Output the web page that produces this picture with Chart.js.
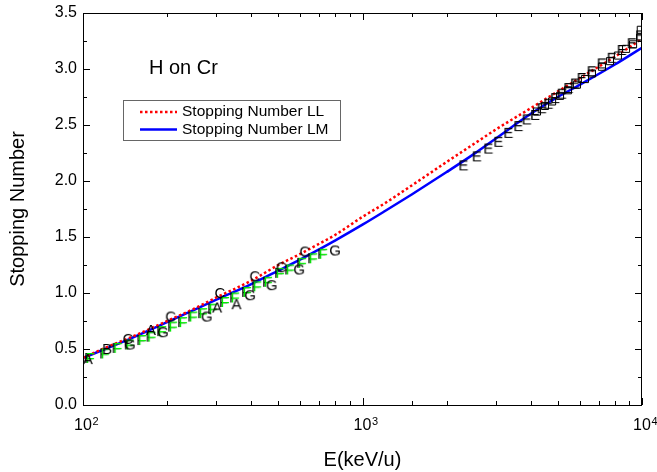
<!DOCTYPE html>
<html>
<head>
<meta charset="utf-8">
<script src="https://cdn.jsdelivr.net/npm/chart.js@4.4.1/dist/chart.umd.min.js"></script>
<style>
  html, body { margin: 0; padding: 0; background: #fff; }
</style>
</head>
<body>
<canvas id="myChart" width="657" height="472"></canvas>
<script>
// theory curves
var energy = [100, 120, 150, 200, 250, 300, 400, 500, 600, 700, 800, 1000, 1200, 1500, 2000, 2500, 3000, 4000, 5000, 6000, 8000, 10000];
var stopLL = [0.42, 0.51, 0.61, 0.75, 0.86, 0.96, 1.11, 1.25, 1.35, 1.44, 1.52, 1.68, 1.80, 1.96, 2.17, 2.33, 2.46, 2.65, 2.80, 2.92, 3.11, 3.27];
var stopLM = [0.42, 0.50, 0.60, 0.74, 0.85, 0.94, 1.08, 1.20, 1.30, 1.39, 1.47, 1.61, 1.73, 1.88, 2.08, 2.24, 2.38, 2.60, 2.75, 2.86, 3.04, 3.19];

// experimental sets (letter symbols)
var aE = [104, 175, 302, 354];
var aS = [0.41, 0.67, 0.87, 0.90];
var bE = [122];
var bS = [0.50];
var cE = [145, 206, 309, 412, 513, 622];
var cS = [0.59, 0.79, 1.00, 1.15, 1.23, 1.37];
var gE = [147, 193, 277, 396, 473, 593, 797];
var gS = [0.54, 0.65, 0.79, 0.98, 1.07, 1.21, 1.38];
var fE = [106, 120, 133, 147, 163, 176, 192, 210, 228, 248, 269, 292, 322, 350, 386, 420, 459, 507, 551, 608, 666, 723];
var fS = [0.42, 0.46, 0.51, 0.54, 0.58, 0.61, 0.66, 0.70, 0.74, 0.79, 0.82, 0.86, 0.92, 0.96, 1.01, 1.06, 1.10, 1.18, 1.21, 1.27, 1.31, 1.35];
var eE = [2295, 2563, 2818, 3060, 3324, 3609, 3866, 4140, 4375, 4620, 4884, 5160, 5447, 5755, 6080, 6603, 7171, 7788, 8455, 9184, 9840];
var eS = [2.14, 2.22, 2.29, 2.35, 2.43, 2.49, 2.55, 2.59, 2.65, 2.69, 2.74, 2.78, 2.83, 2.87, 2.92, 2.98, 3.05, 3.10, 3.17, 3.23, 3.30];
var sqE = [4210, 4496, 4768, 5090, 5436, 5850, 6250, 6620, 7190, 7680, 8200, 8770, 9290, 9840, 9900];
var sqS = [2.62, 2.67, 2.71, 2.76, 2.81, 2.86, 2.91, 2.96, 3.02, 3.07, 3.12, 3.18, 3.22, 3.28, 3.35];

// x axis labels: base 10 with exponent
var xMajor = [100, 1000, 10000];
var xExp = ['2', '3', '4'];
var yLabels = [0, 0.5, 1, 1.5, 2, 2.5, 3, 3.5];

var FONT = '"Liberation Sans", Arial, sans-serif';

function pts(xs, ys) {
  return xs.map(function (x, i) { return { x: x, y: ys[i] }; });
}

function letterMark(ch, color, shadow) {
  var c = document.createElement('canvas');
  c.width = 16; c.height = 16;
  var g = c.getContext('2d');
  g.font = '15px ' + FONT;
  g.textAlign = 'center';
  g.textBaseline = 'middle';
  if (shadow) {
    g.fillStyle = shadow;
    g.fillText(ch, 6.5, 9);
  }
  g.fillStyle = color;
  g.fillText(ch, 8, 8.5);
  return c;
}

function letterSet(ch, xs, ys, color, shadow) {
  return {
    type: 'scatter',
    label: ch,
    data: pts(xs, ys),
    pointStyle: letterMark(ch, color, shadow),
    pointRadius: 7,
    showLine: false
  };
}

var frameAndTicks = {
  id: 'frameAndTicks',
  afterDatasetsDraw: function (chart) {
    var ctx = chart.ctx, a = chart.chartArea;
    var xs = chart.scales.x, ys = chart.scales.y;
    ctx.save();
    ctx.strokeStyle = '#000';
    ctx.lineWidth = 1;
    ctx.strokeRect(a.left + 0.5, a.top + 0.5, a.right - a.left - 1, a.bottom - a.top);
    ctx.beginPath();
    xs.ticks.forEach(function (t) {
      var lg = Math.log10(t.value);
      var major = Math.abs(lg - Math.round(lg)) < 1e-6;
      var len = major ? 7 : 4;
      var px = Math.round(xs.getPixelForValue(t.value)) + 0.5;
      ctx.moveTo(px, a.bottom); ctx.lineTo(px, a.bottom - len);
      ctx.moveTo(px, a.top); ctx.lineTo(px, a.top + len);
    });
    ys.ticks.forEach(function (t) {
      var major = Math.abs(t.value * 2 - Math.round(t.value * 2)) < 1e-6;
      var len = major ? 7 : 4;
      var py = Math.round(ys.getPixelForValue(t.value)) + 0.5;
      ctx.moveTo(a.left, py); ctx.lineTo(a.left + len, py);
      ctx.moveTo(a.right, py); ctx.lineTo(a.right - len, py);
    });
    ctx.stroke();

    // x tick labels 10^n
    ctx.fillStyle = '#000';
    ctx.textBaseline = 'alphabetic';
    xMajor.forEach(function (v, i) {
      var px = xs.getPixelForValue(v);
      ctx.font = '16px ' + FONT;
      ctx.textAlign = 'center';
      ctx.fillText('10', px, a.bottom + 25);
      var w = ctx.measureText('10').width;
      ctx.font = '11px ' + FONT;
      ctx.textAlign = 'left';
      ctx.fillText(xExp[i], px + w / 2 + 0.5, a.bottom + 20);
    });

    // annotation
    ctx.font = '20px ' + FONT;
    ctx.textBaseline = 'middle';
    ctx.textAlign = 'left';
    ctx.fillText('H on Cr', 149, 68);

    // legend
    var lx = 123.5, ly = 100.5, lw = 217, lh = 40;
    ctx.fillStyle = '#fff';
    ctx.fillRect(lx, ly, lw, lh);
    ctx.strokeStyle = '#666';
    ctx.strokeRect(lx, ly, lw, lh);
    var items = [chart.data.datasets[chart.data.datasets.length - 2], chart.data.datasets[chart.data.datasets.length - 1]];
    items.forEach(function (ds, i) {
      var yy = 112 + i * 17.5;
      ctx.beginPath();
      ctx.strokeStyle = ds.borderColor;
      ctx.lineWidth = ds.borderWidth;
      ctx.setLineDash(ds.borderDash || []);
      ctx.moveTo(140, yy); ctx.lineTo(177, yy);
      ctx.stroke();
      ctx.setLineDash([]);
      ctx.fillStyle = '#000';
      ctx.font = '15.5px ' + FONT;
      ctx.fillText(ds.label, 182, yy);
    });
    ctx.restore();
  }
};

var ctx = document.getElementById('myChart').getContext('2d');
var myChart = new Chart(ctx, {
  type: 'scatter',
  plugins: [frameAndTicks],
  data: {
    datasets: [
      letterSet('A', aE, aS, '#000'),
      letterSet('B', bE, bS, '#000'),
      letterSet('C', cE, cS, '#000'),
      letterSet('G', gE, gS, '#000'),
      letterSet('E', eE, eS, '#000'),
      letterSet('F', fE, fS, '#00ee00', '#000'),
      {
        type: 'scatter',
        label: 'squares',
        data: pts(sqE, sqS),
        pointStyle: 'rect',
        pointRadius: 5,
        borderColor: '#000',
        borderWidth: 1,
        backgroundColor: 'rgba(0,0,0,0)',
        showLine: false
      },
      {
        type: 'line',
        label: 'Stopping Number LL',
        data: pts(energy, stopLL),
        borderColor: '#ff0000',
        borderWidth: 2.5,
        borderDash: [2.5, 2.5],
        pointRadius: 0,
        fill: false,
        cubicInterpolationMode: 'monotone'
      },
      {
        type: 'line',
        label: 'Stopping Number LM',
        data: pts(energy, stopLM),
        borderColor: '#0000ff',
        borderWidth: 2.5,
        pointRadius: 0,
        fill: false,
        cubicInterpolationMode: 'monotone'
      }
    ]
  },
  options: {
    responsive: false,
    animation: false,
    events: [],
    layout: { padding: { left: 0, right: 15, top: 13, bottom: 0 } },
    plugins: {
      legend: { display: false },
      tooltip: { enabled: false }
    },
    scales: {
      x: {
        type: 'logarithmic',
        min: 100,
        max: 10000,
        afterFit: function (s) { s.height = 67; s.paddingLeft = 0; s.paddingRight = 0; },
        grid: { display: false, drawTicks: false },
        border: { display: false },
        ticks: { display: false },
        title: {
          display: true,
          text: 'E(keV/u)',
          color: '#000',
          font: { family: FONT, size: 20 },
          padding: { top: 0, bottom: 0 }
        }
      },
      y: {
        min: 0,
        max: 3.5,
        afterFit: function (s) { s.width = 83; s.paddingTop = 0; s.paddingBottom = 0; },
        grid: { display: false, drawTicks: false },
        border: { display: false },
        ticks: {
          stepSize: 0.25,
          autoSkip: false,
          padding: 6,
          color: '#000',
          font: { family: FONT, size: 16 },
          callback: function (v) {
            for (var i = 0; i < yLabels.length; i++) {
              if (Math.abs(yLabels[i] - v) < 1e-6) return yLabels[i].toFixed(1);
            }
            return '';
          }
        },
        title: {
          display: true,
          text: 'Stopping Number',
          color: '#000',
          font: { family: FONT, size: 20 },
          padding: { top: 6, bottom: 0 }
        }
      }
    }
  }
});
</script>
</body>
</html>
